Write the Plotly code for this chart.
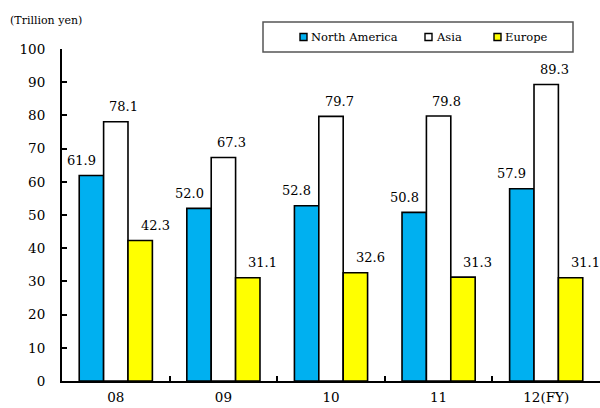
import plotly.graph_objects as go

categories = ["08", "09", "10", "11", "12(FY)"]
series_names = ["North America", "Asia", "Europe"]
north_america = [61.9, 52.0, 52.8, 50.8, 57.9]
asia = [78.1, 67.3, 79.7, 79.8, 89.3]
europe = [42.3, 31.1, 32.6, 31.3, 31.1]
y_ticks = [0, 10, 20, 30, 40, 50, 60, 70, 80, 90, 100]

colors = ["#00B0F0", "#FFFFFF", "#FFFF00"]
label_dx = [-10, 8, 15]  # label offset relative to bar centre (px)
FONT = "DejaVu Serif"

W, H = 600, 408
ml, mr, mt, mb = 62, 0, 49, 27
bargap = 0.32

fig = go.Figure()
all_series = [north_america, asia, europe]
for name, vals, col in zip(series_names, all_series, colors):
    fig.add_trace(go.Bar(
        x=categories, y=vals, name=name,
        marker=dict(color=col, line=dict(color="black", width=1.6)),
        showlegend=False,
    ))

n_s = len(series_names)
bar_w_data = (1 - bargap) / n_s  # bar width in category units

annotations = []
for j, vals in enumerate(all_series):
    for i, v in enumerate(vals):
        annotations.append(dict(
            x=i + (j - (n_s - 1) / 2) * bar_w_data, y=v, xref="x", yref="y",
            text=f"{v:.1f}", showarrow=False, yanchor="middle",
            xshift=label_dx[j], yshift=15,
            font=dict(family=FONT, size=13, color="black"),
        ))

plot_w = W - ml - mr
plot_h = H - mt - mb

def px_x(px):
    return (px - ml) / plot_w

def px_y(py):
    return (H - mb - py) / plot_h

annotations.append(dict(
    x=px_x(8), y=px_y(20), xref="paper", yref="paper", text="(Trillion yen)",
    showarrow=False, xanchor="left", yanchor="middle",
    font=dict(family=FONT, size=11, color="black"),
))

# manual legend box
shapes = [dict(type="rect", xref="paper", yref="paper",
               x0=px_x(263), x1=px_x(573), y0=px_y(52), y1=px_y(22),
               line=dict(color="#555555", width=1.5), fillcolor="white")]
legend_x = [300, 425, 494]
for name, col, lx in zip(series_names, colors, legend_x):
    shapes.append(dict(type="rect", xref="paper", yref="paper",
                       x0=px_x(lx), x1=px_x(lx + 7), y0=px_y(40.5), y1=px_y(33.5),
                       line=dict(color="black", width=1.4), fillcolor=col))
    annotations.append(dict(x=px_x(lx + 8.5), y=px_y(37), xref="paper", yref="paper",
                            text=name, showarrow=False, xanchor="left", yanchor="middle",
                            font=dict(family=FONT, size=11.5, color="black")))

fig.update_layout(
    width=W, height=H,
    margin=dict(l=ml, r=mr, t=mt, b=mb, pad=0, autoexpand=False),
    paper_bgcolor="white", plot_bgcolor="white",
    barmode="group", bargap=bargap, bargroupgap=0,
    font=dict(family=FONT, size=13.5, color="black"),
    annotations=annotations, shapes=shapes,
    xaxis=dict(
        type="category", categoryorder="array", categoryarray=categories,
        range=[-0.5, len(categories) - 0.5], tickangle=0, automargin=False,
        showline=True, linecolor="black", linewidth=2,
        ticks="inside", tickson="boundaries", ticklen=5, tickwidth=1.5, tickcolor="black",
        showgrid=False, zeroline=False, ticklabelstandoff=3,
        tickfont=dict(family=FONT, size=13.5, color="black"),
    ),
    yaxis=dict(
        range=[0, 100], tickvals=y_ticks, automargin=False,
        showline=True, linecolor="black", linewidth=2,
        ticks="inside", ticklen=5, tickwidth=1.5, tickcolor="black",
        showgrid=False, zeroline=False, ticklabelstandoff=12,
        tickfont=dict(family=FONT, size=13.5, color="black"),
    ),
)

fig.write_html("out.html")
